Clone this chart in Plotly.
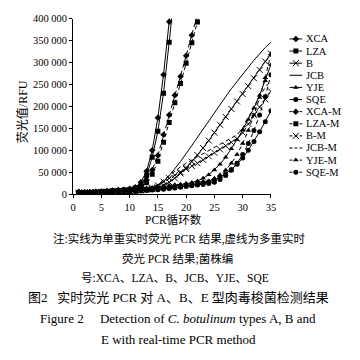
import plotly.graph_objects as go

# ---------------- data ----------------
cycles = list(range(1, 36))

xca = [4000, 3000, 3500, 4500, 5000, 6000, 7000, 8000, 9000, 11000, 15000, 27000,
       52000, 100000, 174000, 272000, 393000, 520000]
lza = [3000, 2500, 3000, 3500, 4500, 5500, 6500, 7500, 8500, 10000, 13000, 21000,
       42000, 84000, 143000, 230000, 346000, 470000]
b = [2000, 2500, 3000, 3000, 3500, 4000, 4500, 5000, 5500, 6000, 7000, 8000, 9500,
     11500, 15000, 20000, 27000, 36000, 47000, 60000, 74000, 89000, 105000, 122000,
     140000, 158000, 176000, 194000, 211000, 228000, 246000, 264000, 283000, 302000, 320000]
jcb = [2500, 2000, 2500, 3000, 3500, 4000, 4500, 5000, 5500, 6500, 7500, 8500, 10000,
       13000, 19000, 29000, 42000, 57000, 74000, 92000, 111000, 130000, 149000, 168000,
       187000, 205000, 222000, 240000, 257000, 273000, 289000, 305000, 320000, 334000, 346000]
yje = [3000, 3500, 4000, 4500, 5000, 5500, 6000, 7000, 7500, 8500, 9500, 10500, 11500,
       13000, 14000, 15500, 17000, 19000, 21000, 23000, 26000, 30000, 36000, 44000, 55000,
       68000, 84000, 103000, 124000, 146000, 170000, 196000, 225000, 258000, 295000]
sqe = [1000, 1500, 2000, 2500, 3000, 3500, 4000, 4500, 5000, 5500, 6000, 7000, 8000,
       9000, 10000, 11000, 12500, 14000, 16000, 18000, 20000, 22000, 25000, 28000, 32000,
       38000, 46000, 56000, 68000, 82000, 100000, 120000, 142000, 165000, 190000]
xca_m = [5000, 4000, 4500, 5000, 6000, 7000, 8000, 9000, 10000, 12000, 15000, 20000,
         32000, 55000, 88000, 135000, 180000, 225000, 268000, 315000, 362000, 410000]
lza_m = [3500, 3000, 3500, 4000, 5000, 6000, 7000, 8000, 9000, 10500, 13000, 17000,
         26000, 45000, 75000, 118000, 163000, 208000, 252000, 298000, 345000, 392000, 440000]
b_m = [3000, 3500, 4000, 4500, 5000, 5500, 6000, 6500, 7000, 7500, 8500, 9500, 11000,
       14000, 20000, 28000, 36000, 43000, 50000, 57000, 64000, 70000, 78000, 86000, 94000,
       102000, 110000, 118000, 126000, 140000, 160000, 180000, 198000, 216000, 234000]
jcb_m = [2000, 2500, 3000, 3500, 4000, 4500, 5000, 5500, 6000, 7000, 8000, 9000, 11000,
         15000, 22000, 32000, 43000, 53000, 62000, 70000, 78000, 85000, 92000, 99000,
         106000, 113000, 120000, 127000, 135000, 150000, 175000, 200000, 223000, 243000, 258000]
yje_m = [4000, 4500, 5000, 5500, 6000, 6500, 7000, 8000, 9000, 10000, 11000, 12000, 13500,
         15000, 16500, 18000, 19500, 21000, 22500, 24000, 25500, 27000, 28500, 30000, 36000,
         44000, 55000, 70000, 90000, 115000, 145000, 180000, 220000, 265000, 320000]
sqe_m = [2000, 2500, 3000, 3500, 4000, 4500, 5000, 5500, 6000, 6500, 7000, 8000, 9000,
         10000, 11000, 12000, 13000, 14500, 16000, 17500, 19000, 20500, 22000, 24000, 27000,
         33000, 42000, 54000, 70000, 90000, 115000, 145000, 180000, 222000, 272000]

series_names = ["XCA", "LZA", "B", "JCB", "YJE", "SQE",
                "XCA-M", "LZA-M", "B-M", "JCB-M", "YJE-M", "SQE-M"]
series_values = [xca, lza, b, jcb, yje, sqe, xca_m, lza_m, b_m, jcb_m, yje_m, sqe_m]

x_tick_vals = [0, 5, 10, 15, 20, 25, 30, 35]
y_tick_vals = [0, 50000, 100000, 150000, 200000, 250000, 300000, 350000, 400000]
y_tick_text = ["0", "50 000", "100 000", "150 000", "200 000", "250 000",
               "300 000", "350 000", "400 000"]

x_title = "PCR循环数"
y_title = "荧光值/RFU"
captions = [
    "注:实线为单重实时荧光 PCR 结果,虚线为多重实时",
    "荧光 PCR 结果;菌株编",
    "号:XCA、LZA、B、JCB、YJE、SQE",
    "图2   实时荧光 PCR 对 A、B、E 型肉毒梭菌检测结果",
    "Figure 2     Detection of <i>C. botulinum</i> types A, B and",
    "E with real-time PCR method",
]

# ---------------- style ----------------
W = H = 360
DASH = "4px,3px"
styles = {
    "XCA": ("solid", "diamond"), "LZA": ("solid", "square"), "B": ("solid", "x-thin"),
    "JCB": ("solid", None), "YJE": ("solid", "triangle-up"), "SQE": ("solid", "circle"),
    "XCA-M": (DASH, "diamond"), "LZA-M": (DASH, "square"), "B-M": (DASH, "x-thin"),
    "JCB-M": (DASH, None), "YJE-M": (DASH, "triangle-up"), "SQE-M": (DASH, "circle"),
}
SERIF = "Liberation Serif, 'Noto Sans CJK SC', serif"
CJK = "'Liberation Serif', 'Noto Sans CJK SC', sans-serif"


def px(p):
    return p / W


def py(p):
    return 1 - p / H


PL, PR, PT, PB = 71.7, 274.0, 14.0, 195.0

fig = go.Figure()


def marker_for(sym, size):
    if sym is None:
        return dict(size=0)
    if sym == "x-thin":
        return dict(symbol=sym, size=size + 1, color="black", line=dict(color="black", width=1))
    return dict(symbol=sym, size=size, color="black", line=dict(color="black", width=0))


for name, vals in zip(series_names, series_values):
    dash, sym = styles[name]
    fig.add_trace(go.Scatter(
        x=cycles[:len(vals)], y=vals, name=name,
        mode="lines+markers" if sym else "lines",
        line=dict(color="black", width=1, dash=dash),
        marker=marker_for(sym, 5),
        showlegend=False, cliponaxis=True,
    ))

# custom compact legend (drawn on a pixel-space helper axis)
LEG_X0, LEG_X1, LEG_Y0, LEG_DY = 293, 306, 35, 12.5
for i, name in enumerate(series_names):
    dash, sym = styles[name]
    yc = LEG_Y0 + i * LEG_DY
    fig.add_trace(go.Scatter(
        x=[LEG_X0, LEG_X1], y=[yc, yc], mode="lines",
        line=dict(color="black", width=1, dash=("3px,2px" if dash != "solid" else "solid")),
        xaxis="x2", yaxis="y2", showlegend=False, hoverinfo="skip",
    ))
    if sym:
        fig.add_trace(go.Scatter(
            x=[(LEG_X0 + LEG_X1) / 2], y=[yc], mode="markers",
            marker=marker_for(sym, 5), xaxis="x2", yaxis="y2",
            showlegend=False, hoverinfo="skip",
        ))
    fig.add_annotation(x=px(LEG_X1 + 2), y=py(yc), xref="paper", yref="paper",
                       text=name, showarrow=False, xanchor="left", yanchor="middle",
                       font=dict(family=SERIF, size=10.5, color="black"))

axis_common = dict(showgrid=False, zeroline=False, showline=True, linecolor="black",
                   linewidth=1, ticks="outside", ticklen=3, tickcolor="black", tickwidth=1,
                   tickfont=dict(family=SERIF, size=10.5, color="black"), mirror=False)

fig.update_layout(
    width=W, height=H, margin=dict(l=0, r=0, t=0, b=0, pad=0),
    paper_bgcolor="white", plot_bgcolor="white", showlegend=False,
    xaxis=dict(domain=[px(PL), px(PR)], range=[0, 35], tickvals=x_tick_vals,
               anchor="y", **axis_common),
    yaxis=dict(domain=[py(PB), py(PT)], range=[0, 400000], tickvals=y_tick_vals,
               ticktext=y_tick_text, anchor="x", **axis_common),
    xaxis2=dict(domain=[px(288), 1], range=[288, 360], visible=False, anchor="y2",
                fixedrange=True),
    yaxis2=dict(domain=[0, 1], range=[360, 0], visible=False, anchor="x2",
                fixedrange=True),
)

fig.add_annotation(x=px(20), y=py(110), xref="paper", yref="paper", text=y_title,
                   textangle=-90, showarrow=False, xanchor="center", yanchor="middle",
                   font=dict(family=CJK, size=12, color="black"))
fig.add_annotation(x=px(174), y=py(221), xref="paper", yref="paper", text=x_title,
                   showarrow=False, xanchor="center", yanchor="middle",
                   font=dict(family=CJK, size=11.5, color="black"))

cap_y = [241, 262, 282, 302, 323.5, 345.5]
cap_x = [180, 178, 176, 179, 179, 179]
cap_size = [11.5, 11.5, 11.5, 13, 13, 13]
for t, xx, yy, s in zip(captions, cap_x, cap_y, cap_size):
    fig.add_annotation(x=px(xx), y=py(yy), xref="paper", yref="paper", text=t,
                       showarrow=False, xanchor="center", yanchor="middle",
                       font=dict(family=CJK, size=s, color="black"))

fig.write_html("out.html", config={"displayModeBar": False},
               post_script="document.body.style.margin='0';document.body.style.overflow='hidden';")
